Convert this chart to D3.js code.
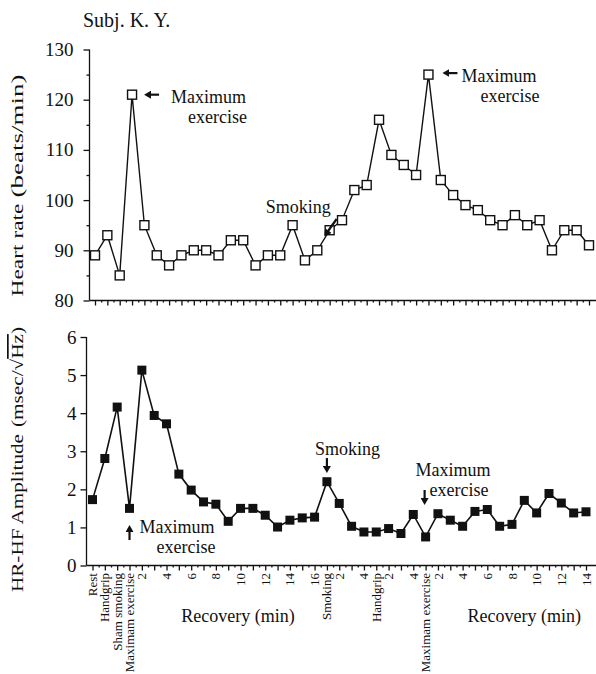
<!DOCTYPE html>
<html>
<head>
<meta charset="utf-8">
<script src="https://cdn.jsdelivr.net/npm/d3@7"></script>
<style>
  body { margin: 0; background: #fff; }
  svg text { font-family: "Liberation Serif", "Times New Roman", serif; fill: #111; }
</style>
</head>
<body>
<div id="chart"></div>
<script>
var xLabels = ["Rest", "Handgrip", "Sham smoking", "Maximam exercise",
  "2", "", "4", "", "6", "", "8", "", "10", "", "12", "", "14", "", "16",
  "Smoking", "2", "", "4", "Handgrip", "2", "", "4", "Maximam exercise",
  "2", "", "4", "", "6", "", "8", "", "10", "", "12", "", "14"];
var heartRate = [89, 93, 85, 121, 95, 89, 87, 89, 90, 90, 89, 92, 92, 87, 89, 89, 95, 88, 90, 94,
  96, 102, 103, 116, 109, 107, 105, 125, 104, 101, 99, 98, 96, 95, 97, 95, 96, 90, 94, 94, 91];
var hfAmplitude = [1.73, 2.81, 4.16, 1.50, 5.13, 3.94, 3.72, 2.40, 1.98, 1.67, 1.61, 1.16, 1.50, 1.50,
  1.32, 1.01, 1.19, 1.25, 1.27, 2.20, 1.63, 1.03, 0.88, 0.88, 0.97, 0.84, 1.34, 0.75, 1.36, 1.19,
  1.03, 1.42, 1.47, 1.03, 1.08, 1.71, 1.38, 1.89, 1.64, 1.38, 1.41];
var hrTicks = [80, 90, 100, 110, 120, 130];
var hfTicks = [0, 1, 2, 3, 4, 5, 6];

var serif = "Liberation Serif";
var width = 596, height = 674;
var svg = d3.select("#chart").append("svg")
  .attr("width", width)
  .attr("height", height)
  .attr("font-family", serif);
svg.append("rect").attr("width", width).attr("height", height).attr("fill", "#fff");

svg.append("defs").append("marker")
  .attr("id", "fleche")
  .attr("markerUnits", "userSpaceOnUse")
  .attr("markerWidth", 8).attr("markerHeight", 8)
  .attr("refX", 3).attr("refY", 4)
  .attr("orient", "auto")
  .append("path")
  .attr("d", "M0,0 L7,4 L0,8 Z")
  .attr("fill", "#111");

var idx = d3.range(heartRate.length);
var xTop = d3.scaleLinear().domain([0, 40]).range([95, 589]);
var xBot = d3.scaleLinear().domain([0, 40]).range([92.5, 586]);
var yTop = d3.scaleLinear().domain([80, 130]).range([300.5, 49.5]);
var yBot = d3.scaleLinear().domain([0, 6]).range([565.5, 337]);

svg.append("text")
  .attr("x", 83).attr("y", 27)
  .attr("font-family", serif)
  .attr("font-size", "20px")
  .text("Subj. K. Y.");

function drawaxes (x, y, yticks, yminor, axisx, padding){
  var axisy = y.range()[0];
  // axe des x : graduations a chaque point, petites entre deux
  var gx = svg.append("g").attr("transform", "translate(0," + axisy + ")")
    .call(d3.axisBottom(x).tickValues(idx).tickSize(5).tickFormat(""));
  gx.select(".domain").attr("d", "M" + axisx + ",0H" + width);
  svg.append("g").attr("transform", "translate(0," + axisy + ")")
    .call(d3.axisBottom(x).tickValues(idx.map(function(i){ return i + 0.5; }).slice(0, 40))
      .tickSize(2).tickFormat(""))
    .select(".domain").remove();
  // axe des y
  var gy = svg.append("g").attr("transform", "translate(" + axisx + ",0)")
    .call(d3.axisLeft(y).tickValues(yticks).tickSize(6).tickPadding(padding).tickFormat(d3.format("d")));
  gy.attr("font-family", serif);
  gy.select(".domain").attr("d", "M0," + y.range()[1] + "V" + axisy);
  gy.selectAll("text").attr("font-size", "19px").attr("font-family", serif).attr("fill", "#111");
  svg.append("g").attr("transform", "translate(" + axisx + ",0)")
    .call(d3.axisLeft(y).tickValues(yminor).tickSize(3).tickFormat(""))
    .select(".domain").remove();
  svg.selectAll(".domain, .tick line").attr("stroke", "#111").attr("stroke-width", 1.3);
}

drawaxes(xTop, yTop, hrTicks, [85, 95, 105, 115, 125], 89.5, 10);
drawaxes(xBot, yBot, hfTicks, [], 86.5, 4);

// courbe de la fréquence cardiaque
var lineTop = d3.line().x(function(d, i){ return xTop(i); }).y(function(d){ return yTop(d); });
svg.append("path").datum(heartRate)
  .attr("d", lineTop)
  .attr("fill", "none").attr("stroke", "#111").attr("stroke-width", 1.4);
svg.selectAll(".hr").data(heartRate).enter().append("rect")
  .attr("x", function(d, i){ return xTop(i) - 4.5; })
  .attr("y", function(d){ return yTop(d) - 4.5; })
  .attr("width", 9).attr("height", 9)
  .attr("fill", "#fff").attr("stroke", "#111").attr("stroke-width", 1.4);

// courbe HR-HF
var lineBot = d3.line().x(function(d, i){ return xBot(i); }).y(function(d){ return yBot(d); });
svg.append("path").datum(hfAmplitude)
  .attr("d", lineBot)
  .attr("fill", "none").attr("stroke", "#111").attr("stroke-width", 1.6);
svg.selectAll(".hf").data(hfAmplitude).enter().append("rect")
  .attr("x", function(d, i){ return xBot(i) - 4.5; })
  .attr("y", function(d){ return yBot(d) - 4.5; })
  .attr("width", 9).attr("height", 9)
  .attr("fill", "#111");

// étiquettes verticales sous l'axe du bas
svg.selectAll(".xlab").data(xLabels).enter().append("text")
  .attr("transform", function(d, i){ return "translate(" + xBot(i) + ",573) rotate(-90)"; })
  .attr("text-anchor", "end")
  .attr("dy", "0.35em")
  .attr("font-family", serif)
  .attr("font-size", "13px")
  .text(function(d){ return d; });

svg.append("text").attr("x", xBot(11.8)).attr("y", 622)
  .attr("text-anchor", "middle").attr("font-family", serif).attr("font-size", "18px").text("Recovery (min)");
svg.append("text").attr("x", xBot(35)).attr("y", 622)
  .attr("text-anchor", "middle").attr("font-family", serif).attr("font-size", "18px").text("Recovery (min)");

// titres des axes y
function ytitle (parts){
  parts.forEach(function(p){
    svg.append("text")
      .attr("transform", "translate(23," + p.cy + ") rotate(-90)")
      .attr("text-anchor", "middle")
      .attr("font-family", serif)
      .attr("font-size", "17px")
      .attr("textLength", p.len)
      .attr("lengthAdjust", "spacingAndGlyphs")
      .text(p.text);
  });
}
ytitle([{ text: "Heart rate", cy: 250, len: 93 }, { text: "(beats/min)", cy: 136, len: 123 },
  { text: "HR-HF Amplitude", cy: 513, len: 158 }]);
var unit = svg.append("text")
  .attr("transform", "translate(23,377) rotate(-90)")
  .attr("text-anchor", "middle")
  .attr("font-family", serif)
  .attr("font-size", "17px")
  .attr("textLength", 100)
  .attr("lengthAdjust", "spacingAndGlyphs");
unit.append("tspan").text("(msec/√");
unit.append("tspan").attr("text-decoration", "overline").text("Hz");
unit.append("tspan").text(")");

// annotations
function note (x, y, lines){
  lines.forEach(function(l, k){
    svg.append("text")
      .attr("x", x + l.dx).attr("y", y + k * 20)
      .attr("font-family", serif)
      .attr("font-size", "18px")
      .text(l.t);
  });
}
function arrow (x1, y1, x2, y2){
  svg.append("line")
    .attr("x1", x1).attr("y1", y1).attr("x2", x2).attr("y2", y2)
    .attr("stroke", "#111").attr("stroke-width", 2.2)
    .attr("marker-end", "url(#fleche)");
}

note(xTop(3) + 39, 103, [{ t: "Maximum", dx: 0 }, { t: "exercise", dx: 17 }]);
arrow(xTop(3) + 27, yTop(121), xTop(3) + 16, yTop(121));
note(xTop(27) + 33, 82, [{ t: "Maximum", dx: 0 }, { t: "exercise", dx: 19 }]);
arrow(xTop(27) + 29, yTop(125.3), xTop(27) + 18, yTop(125.3));
note(xTop(19) - 64, 213, [{ t: "Smoking", dx: 0 }]);
arrow(xTop(19) + 7, 219, xTop(19) - 3, 233);

note(xBot(3) + 10, 533, [{ t: "Maximum", dx: 0 }, { t: "exercise", dx: 17 }]);
arrow(xBot(3), 540, xBot(3), 529);
note(xBot(19) - 12, 455, [{ t: "Smoking", dx: 0 }]);
arrow(xBot(19), 458, xBot(19), 469);
note(xBot(27) - 10, 476, [{ t: "Maximum", dx: 0 }, { t: "exercise", dx: 14 }]);
arrow(xBot(27) - 1, 490, xBot(27) - 1, 501);
</script>
</body>
</html>
